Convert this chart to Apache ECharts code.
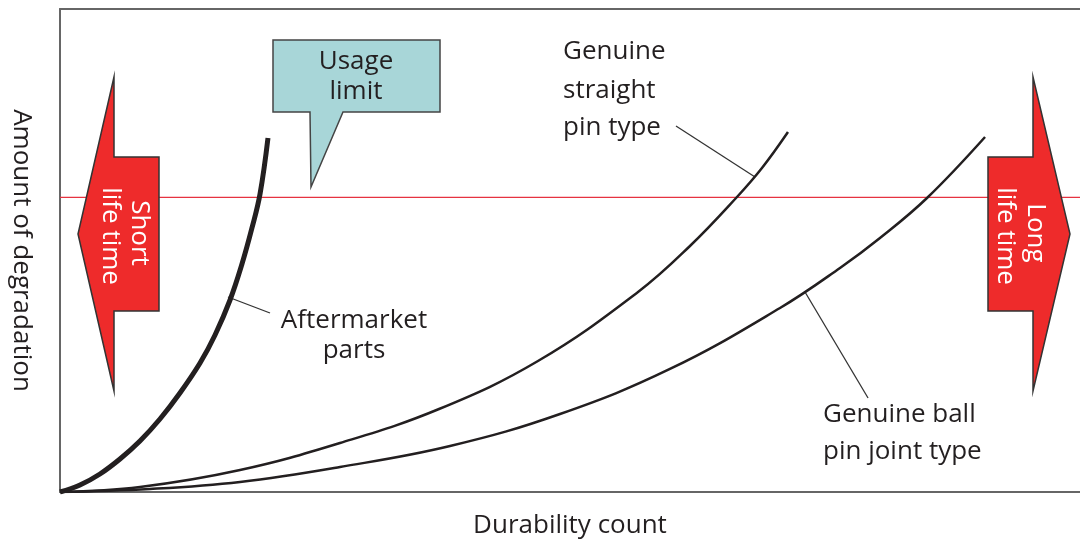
<!DOCTYPE html>
<html>
<head>
<meta charset="utf-8">
<script src="https://cdn.jsdelivr.net/npm/echarts@6/dist/echarts.min.js"></script>
<style>
  html, body { margin: 0; padding: 0; background: #fff; }
  #chart { width: 1080px; height: 542px; }
</style>
</head>
<body>
<div id="chart"></div>
<script>
// curves: [durability count, amount of degradation], both 0..100
var aftermarket = [[0, 0], [1.96, 1.45], [3.92, 3.73], [5.88, 6.83], [7.84, 10.56], [9.8, 15.11], [11.76, 20.5],
    [13.73, 26.71], [15.2, 32.51], [16.67, 39.75], [17.84, 47.2], [18.82, 54.66], [19.61, 61.7], [20.39, 73.29]];
var straightPin = [[0, 0], [7.84, 1.04], [17.65, 4.55], [27.45, 10.14], [37.16, 17.18], [46.86, 27.12], [56.67, 41.41],
    [61.76, 50.93], [66.37, 61.08], [68.82, 67.08], [71.37, 74.53]];
var ballPin = [[0, 0], [8.82, 0.62], [17.65, 2.07], [27.45, 5.18], [38.24, 9.52], [49.02, 16.15], [59.8, 25.47],
    [70.59, 38.1], [76.47, 46.38], [80.39, 52.59], [85.0, 60.87], [90.69, 73.5]];
var usageLimit = 61;

// leader lines from label to curve
var leaderAfter = [[16.47, 40.37], [20.59, 37.06]];
var leaderStraight = [[60.39, 75.78], [68.14, 65.22]];
var leaderBall = [[73.04, 41.41], [79.22, 19.46]];

var FONT = '"Open Sans", sans-serif';
var INK = '#231f20';

window.onload = function () {
    var myChart = echarts.init(document.getElementById('chart'));

    function txt(x, y, s, opt) {
        opt = opt || {};
        return {
            type: 'text', x: x, y: y, rotation: opt.rot || 0, z: 10,
            style: {
                text: s, fill: opt.fill || INK, font: '26px ' + FONT,
                align: opt.align || 'center', verticalAlign: 'middle'
            }
        };
    }

    function leader(d) {
        return {
            type: 'line', data: d, symbol: 'none', silent: true,
            lineStyle: { color: '#333', width: 1.3 }, z: 3
        };
    }

    var option = {
        animation: false,
        grid: { left: 60, right: 0, top: 9, bottom: 50, outerBoundsMode: 'none', containLabel: false },
        xAxis: [
            {
                type: 'value', min: 0, max: 100,
                name: 'Durability count', nameLocation: 'middle', nameGap: 21,
                nameTextStyle: { fontSize: 26, color: INK, fontFamily: FONT },
                axisLine: { show: true, lineStyle: { color: '#666', width: 2 } },
                axisTick: { show: false }, axisLabel: { show: false }, splitLine: { show: false }
            },
            {
                type: 'value', min: 0, max: 100, position: 'top',
                axisLine: { show: true, lineStyle: { color: '#666', width: 2 } },
                axisTick: { show: false }, axisLabel: { show: false }, splitLine: { show: false }
            }
        ],
        yAxis: {
            type: 'value', min: 0, max: 100,
            name: 'Amount of degradation', nameLocation: 'middle', nameGap: 26, nameRotate: -90,
            nameTextStyle: { fontSize: 26, color: INK, fontFamily: FONT },
            axisLine: { show: true, lineStyle: { color: '#666', width: 2 } },
            axisTick: { show: false }, axisLabel: { show: false }, splitLine: { show: false }
        },
        series: [
            {
                name: 'Usage limit', type: 'line', symbol: 'none', silent: true,
                data: [[0, usageLimit], [100, usageLimit]],
                lineStyle: { color: '#e63340', width: 1.4 }, z: 1
            },
            {
                name: 'Aftermarket parts', type: 'line', smooth: 0.4, symbol: 'none',
                data: aftermarket, lineStyle: { color: INK, width: 5 }, z: 4
            },
            {
                name: 'Genuine straight pin type', type: 'line', smooth: 0.4, symbol: 'none',
                data: straightPin, lineStyle: { color: INK, width: 2.5 }, z: 4
            },
            {
                name: 'Genuine ball pin joint type', type: 'line', smooth: 0.4, symbol: 'none',
                data: ballPin, lineStyle: { color: INK, width: 2.5 }, z: 4
            },
            leader(leaderAfter),
            leader(leaderStraight),
            leader(leaderBall)
        ],
        graphic: [
            // short life time arrow
            {
                type: 'polygon', z: 5,
                shape: { points: [[114, 77], [114, 157], [159, 157], [159, 311], [114, 311], [114, 391], [78, 234]] },
                style: { fill: '#ee2b2b', stroke: '#333', lineWidth: 1.5 }
            },
            txt(139, 233, 'Short', { rot: -Math.PI / 2, fill: '#fff' }),
            txt(110, 236, 'life time', { rot: -Math.PI / 2, fill: '#fff' }),
            // long life time arrow
            {
                type: 'polygon', z: 5,
                shape: { points: [[1033, 77], [1070, 234], [1033, 391], [1033, 311], [988, 311], [988, 157], [1033, 157]] },
                style: { fill: '#ee2b2b', stroke: '#333', lineWidth: 1.5 }
            },
            txt(1035, 233, 'Long', { rot: -Math.PI / 2, fill: '#fff' }),
            txt(1005, 236, 'life time', { rot: -Math.PI / 2, fill: '#fff' }),
            // usage limit callout
            {
                type: 'polygon', z: 5,
                shape: { points: [[273, 40], [440, 40], [440, 112], [343, 112], [311, 187], [310, 112], [273, 112]] },
                style: { fill: '#a8d6d8', stroke: '#444', lineWidth: 1.5 }
            },
            txt(356, 62, 'Usage'),
            txt(356, 92, 'limit'),
            // curve labels
            txt(354, 321, 'Aftermarket'),
            txt(354, 351, 'parts'),
            txt(563, 52, 'Genuine', { align: 'left' }),
            txt(563, 91, 'straight', { align: 'left' }),
            txt(563, 128, 'pin type', { align: 'left' }),
            txt(823, 415, 'Genuine ball', { align: 'left' }),
            txt(823, 452, 'pin joint type', { align: 'left' })
        ]
    };

    myChart.setOption(option);
    window.addEventListener('resize', function () {
        myChart.resize();
    });
};
</script>
</body>
</html>
